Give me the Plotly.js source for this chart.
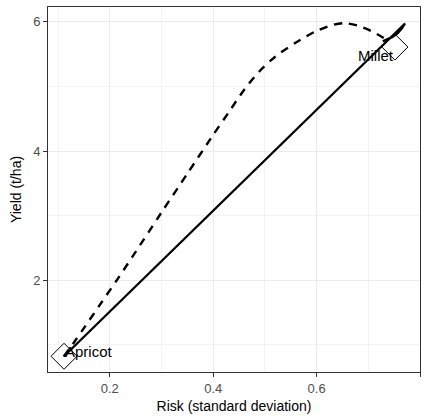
<!DOCTYPE html>
<html>
<head>
<meta charset="utf-8">
<script src="https://cdn.plot.ly/plotly-3.0.1.min.js"></script>
<style>html,body{margin:0;padding:0;background:#fff;}#chart{width:427px;height:420px;}</style>
</head>
<body>
<div id="chart"></div>
<script>
// Solid line (risk, yield)
var solidRisk  = [0.111, 0.771, 0.765, 0.757, 0.746, 0.732, 0.728];
var solidYield = [0.82, 5.975, 5.90, 5.825, 5.763, 5.717, 5.70];
// Dashed curve (risk, yield)
var dashRisk  = [0.111, 0.130, 0.150, 0.180, 0.216, 0.250, 0.300, 0.350, 0.400, 0.430, 0.460, 0.490, 0.520, 0.560, 0.600, 0.630, 0.655, 0.680, 0.705, 0.732];
var dashYield = [0.82, 1.03, 1.26, 1.61, 2.03, 2.44, 3.05, 3.65, 4.25, 4.60, 4.95, 5.24, 5.46, 5.68, 5.86, 5.95, 5.98, 5.94, 5.86, 5.74];
// Crops
var cropNames = ["Apricot", "Millet"];
var cropRisk  = [0.1115, 0.7515];
var cropYield = [0.824, 5.61];
// Ticks
var xTicks = [0.2, 0.4, 0.6, 0.8];
var yTicks = [2, 4, 6];

var traces = [
  {x: dashRisk, y: dashYield, mode: 'lines', type: 'scatter',
   line: {color: '#000', width: 2.4, dash: '8px,7px', shape: 'spline', smoothing: 0.8}, hoverinfo: 'skip'},
  {x: solidRisk, y: solidYield, mode: 'lines', type: 'scatter',
   line: {color: '#000', width: 2.3}, hoverinfo: 'skip'},
  {x: cropRisk, y: cropYield, mode: 'markers', type: 'scatter',
   marker: {symbol: 'diamond-open', size: 20, color: '#000', line: {width: 1, color: '#000'}}, hoverinfo: 'skip'}
];

var labelFont = {family: 'Liberation Sans, Arial, sans-serif', size: 15, color: '#000'};
var annotations = cropNames.map(function (n, i) {
  var first = i === 0;
  return {x: cropRisk[i], y: cropYield[i], xref: 'x', yref: 'y', text: n, showarrow: false,
    xanchor: first ? 'left' : 'right', yanchor: 'middle',
    xshift: first ? -1 : 1, yshift: first ? 5 : -8, font: labelFont};
});

var axisCommon = {
  showgrid: true, gridcolor: '#ebebeb', gridwidth: 1.1,
  zeroline: false, showline: true, linecolor: '#333', linewidth: 1, mirror: true,
  ticks: 'outside', ticklen: 4, tickwidth: 1, tickcolor: '#333',
  tickfont: {family: 'Liberation Sans, Arial, sans-serif', size: 13, color: '#4d4d4d'}
};

var layout = {
  width: 427, height: 420,
  margin: {l: 48, r: 7, t: 7, b: 48},
  paper_bgcolor: '#fff', plot_bgcolor: '#fff',
  showlegend: false,
  xaxis: Object.assign({}, axisCommon, {
    range: [0.0805, 0.8], tickvals: xTicks, ticktext: xTicks.map(function (v) { return v.toFixed(1); }),
    minor: {dtick: 0.1, tick0: 0, showgrid: true, gridcolor: '#ebebeb', gridwidth: 0.6, ticklen: 0},
    title: {text: 'Risk (standard deviation)', standoff: 6,
      font: {family: 'Liberation Sans, Arial, sans-serif', size: 14, color: '#000'}}
  }),
  yaxis: Object.assign({}, axisCommon, {
    range: [0.58, 6.23], tickvals: yTicks, ticktext: yTicks.map(String),
    minor: {dtick: 1, tick0: 0, showgrid: true, gridcolor: '#ebebeb', gridwidth: 0.6, ticklen: 0},
    title: {text: 'Yield (t/ha)', standoff: 8,
      font: {family: 'Liberation Sans, Arial, sans-serif', size: 14, color: '#000'}}
  }),
  annotations: annotations
};

Plotly.newPlot('chart', traces, layout, {displayModeBar: false, staticPlot: true});
</script>
</body>
</html>
